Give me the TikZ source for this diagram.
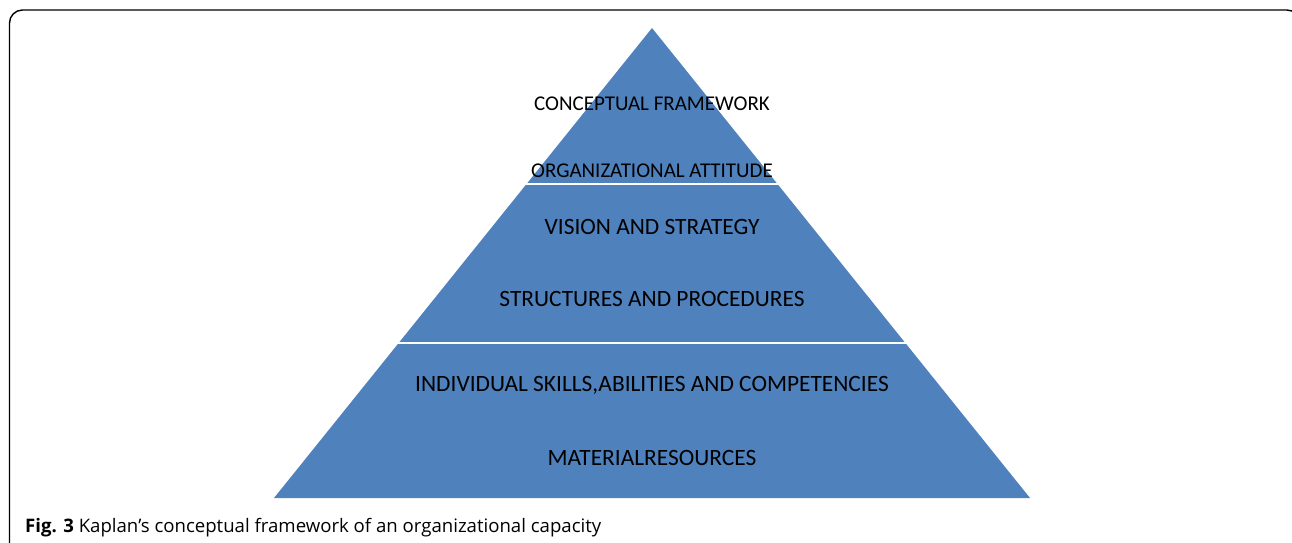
\documentclass[tikz,border=0pt]{standalone}
\usepackage{fontspec}
\setmainfont{Carlito}
\newfontfamily\capfont{Open Sans}
\usetikzlibrary{calc}
\definecolor{pyrblue}{HTML}{4F81BD}
\begin{document}
\begin{tikzpicture}[x=1pt,y=1pt,
  lvltext/.style={font=\fontsize{21}{24}\selectfont, text=black, inner sep=0pt, anchor=center},
  lvltextb/.style={font=\fontsize{23.4}{26}\selectfont, text=black, inner sep=0pt, anchor=center},
  sepline/.style={draw=white, line width=2.6pt}]
\useasboundingbox (0,0) rectangle (1292,542);
% frame
\draw[line width=1.4pt, rounded corners=13pt] (9.5,-20) -- (9.5,532) -- (1300,532) -- (1300,-20);
% pyramid
\coordinate (apex) at (652,514);
\coordinate (bl) at (274,44);
\coordinate (br) at (1030,44);
\fill[pyrblue] (apex) -- (bl) -- (br) -- cycle;
\coordinate (s1l) at ($(apex)!0.3319!(bl)$);
\coordinate (s1r) at ($(apex)!0.3319!(br)$);
\coordinate (s2l) at ($(apex)!0.6702!(bl)$);
\coordinate (s2r) at ($(apex)!0.6702!(br)$);
\draw[sepline] ($(s1l)+(-2,0)$) -- ($(s1r)+(2,0)$);
\draw[sepline] ($(s2l)+(-2,0)$) -- ($(s2r)+(2,0)$);
% texts
\node[lvltext] (t1) at (652,438) {CONCEPTUAL FRAMEWORK};
\node[lvltext] (t2) at (652,371) {ORGANIZATIONAL ATTITUDE};
\node[lvltextb] (t3) at (652,315) {VISION AND STRATEGY};
\node[lvltextb] (t4) at (652,243) {STRUCTURES AND PROCEDURES};
\node[lvltextb] (t5) at (652,157) {INDIVIDUAL SKILLS,ABILITIES AND COMPETENCIES};
\node[lvltextb] (t6) at (652,84) {MATERIALRESOURCES};
% caption
\node[anchor=base west, inner sep=0pt, font=\capfont\fontsize{18.6}{21}\selectfont] (cap) at (25,10)
  {\textbf{Fig. 3} Kaplan’s conceptual framework of an organizational capacity};
\end{tikzpicture}
\end{document}
